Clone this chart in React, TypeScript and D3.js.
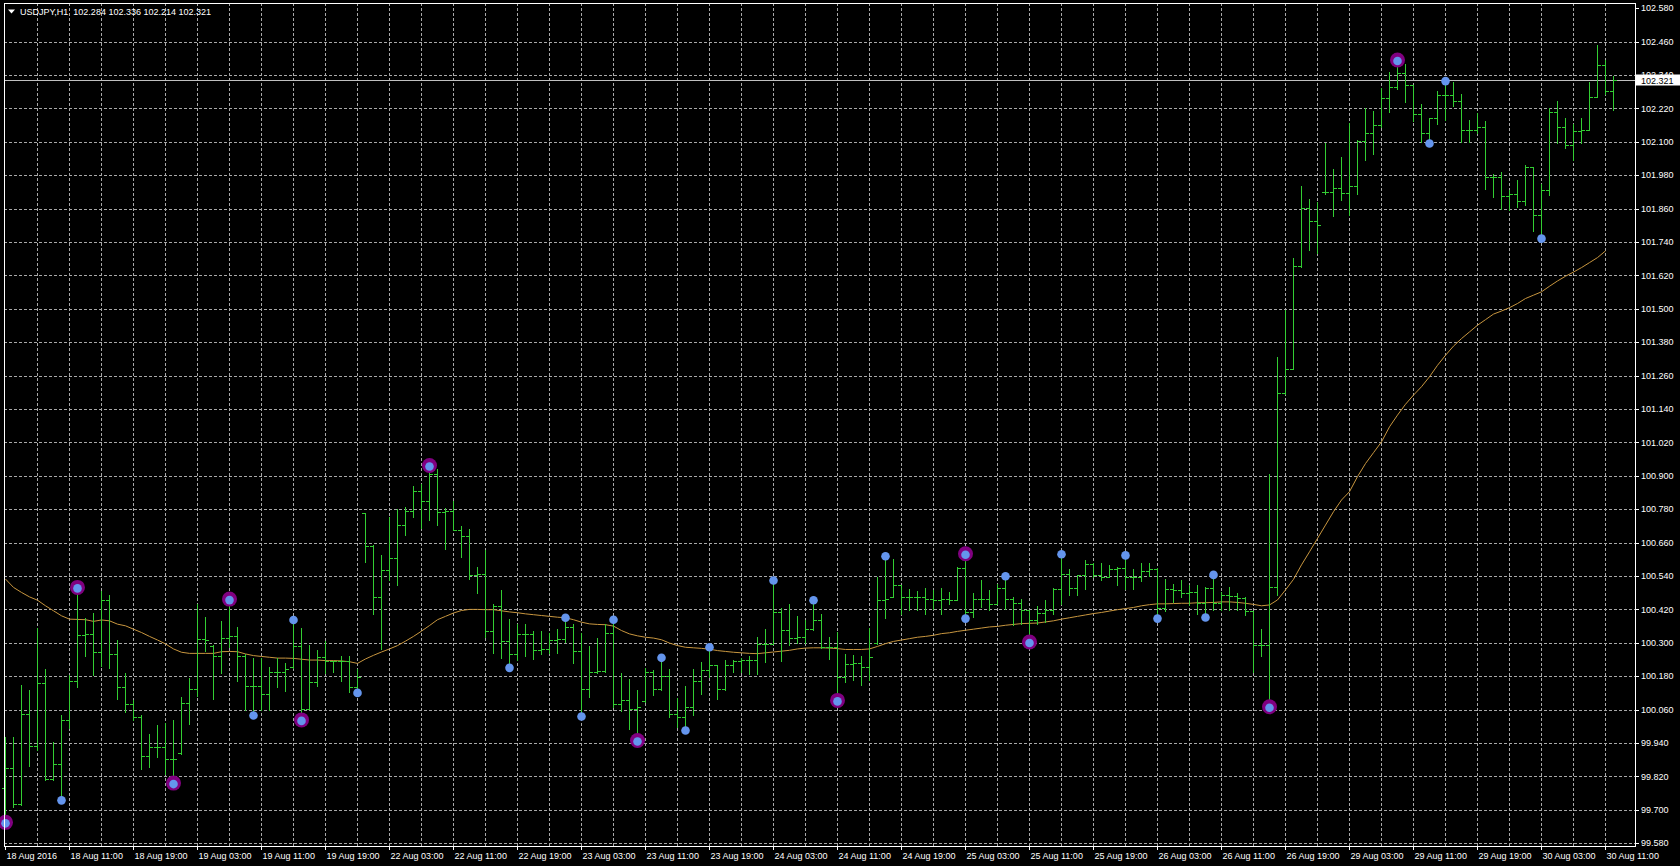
import * as d3 from 'd3';

const symbol = 'USDJPY,H1';
const lastQuote = ['102.284', '102.336', '102.214', '102.321'];
const lastClose = 102.321;

const timeLabels = [
  '18 Aug 2016', '18 Aug 11:00', '18 Aug 19:00', '19 Aug 03:00', '19 Aug 11:00', '19 Aug 19:00',
  '22 Aug 03:00', '22 Aug 11:00', '22 Aug 19:00', '23 Aug 03:00', '23 Aug 11:00', '23 Aug 19:00',
  '24 Aug 03:00', '24 Aug 11:00', '24 Aug 19:00', '25 Aug 03:00', '25 Aug 11:00', '25 Aug 19:00',
  '26 Aug 03:00', '26 Aug 11:00', '26 Aug 19:00', '29 Aug 03:00', '29 Aug 11:00', '29 Aug 19:00',
  '30 Aug 03:00', '30 Aug 11:00',
];

const priceTicks = [
  99.58, 99.7, 99.82, 99.94, 100.06, 100.18, 100.3, 100.42, 100.54, 100.66, 100.78, 100.9, 101.02,
  101.14, 101.26, 101.38, 101.5, 101.62, 101.74, 101.86, 101.98, 102.1, 102.22, 102.34, 102.46, 102.58,
];

// hourly bars, 18 Aug 03:00 .. 30 Aug 12:00
const opens = [
  99.78, 99.851, 99.722, 100.043, 99.931, 100.155, 99.812, 99.865, 100.023, 100.162,
  100.327, 100.331, 100.267, 100.454, 100.26, 100.14, 100.081, 100.033, 99.895, 99.925,
  99.924, 99.883, 99.905, 100.083, 100.135, 100.313, 100.29, 100.254, 100.319, 100.325,
  100.254, 100.144, 100.145, 100.116, 100.194, 100.194, 100.212, 100.288, 100.063, 100.158,
  100.248, 100.236, 100.233, 100.233, 100.14, 100.766, 100.646, 100.464, 100.56, 100.605,
  100.725, 100.773, 100.845, 100.811, 100.907, 100.769, 100.775, 100.706, 100.682, 100.542,
  100.546, 100.341, 100.431, 100.306, 100.258, 100.33, 100.33, 100.273, 100.278, 100.311,
  100.314, 100.356, 100.27, 100.135, 100.195, 100.198, 100.335, 100.079, 100.093, 100.063,
  100.09, 100.195, 100.135, 100.179, 100.045, 100.033, 100.071, 100.161, 100.203, 100.219,
  100.135, 100.219, 100.234, 100.239, 100.237, 100.294, 100.297, 100.411, 100.345, 100.318,
  100.321, 100.351, 100.383, 100.285, 100.285, 100.177, 100.225, 100.227, 100.213, 100.3,
  100.455, 100.466, 100.506, 100.464, 100.464, 100.464, 100.459, 100.453, 100.459, 100.453,
  100.57, 100.411, 100.459, 100.459, 100.438, 100.498, 100.459, 100.443, 100.417, 100.381,
  100.407, 100.417, 100.494, 100.548, 100.498, 100.542, 100.584, 100.542, 100.536, 100.566,
  100.57, 100.536, 100.537, 100.558, 100.565, 100.426, 100.493, 100.489, 100.479, 100.482,
  100.442, 100.498, 100.442, 100.47, 100.468, 100.461, 100.415, 100.293, 100.293, 100.502,
  101.196, 101.284, 101.654, 101.863, 101.814, 101.92, 101.919, 101.933, 101.916, 101.94,
  102.104, 102.132, 102.16, 102.256, 102.298, 102.348, 102.304, 102.2, 102.13, 102.184,
  102.268, 102.268, 102.248, 102.142, 102.142, 102.154, 101.974, 101.974, 101.904, 101.912,
  101.888, 102.01, 101.836, 101.926, 102.208, 102.154, 102.088, 102.14, 102.142, 102.262,
  102.376, 102.284,
];

const highs = [
  99.961, 99.963, 100.15, 100.132, 100.353, 100.207, 99.943, 100.042, 100.183, 100.499,
  100.389, 100.408, 100.487, 100.472, 100.31, 100.193, 100.095, 100.039, 99.973, 100.006,
  100.011, 100.024, 100.104, 100.172, 100.439, 100.394, 100.293, 100.379, 100.457, 100.358,
  100.26, 100.244, 100.245, 100.212, 100.245, 100.229, 100.382, 100.353, 100.293, 100.274,
  100.308, 100.236, 100.251, 100.254, 100.206, 100.766, 100.65, 100.614, 100.751, 100.781,
  100.787, 100.865, 100.871, 100.937, 100.925, 100.785, 100.809, 100.718, 100.71, 100.572,
  100.634, 100.438, 100.488, 100.386, 100.368, 100.366, 100.342, 100.342, 100.335, 100.35,
  100.39, 100.368, 100.335, 100.29, 100.318, 100.368, 100.383, 100.191, 100.171, 100.131,
  100.21, 100.201, 100.246, 100.207, 100.102, 100.146, 100.207, 100.231, 100.284, 100.219,
  100.237, 100.239, 100.246, 100.251, 100.321, 100.351, 100.524, 100.426, 100.438, 100.395,
  100.381, 100.453, 100.405, 100.321, 100.339, 100.261, 100.255, 100.251, 100.354, 100.536,
  100.611, 100.602, 100.506, 100.494, 100.486, 100.498, 100.488, 100.498, 100.482, 100.572,
  100.62, 100.479, 100.524, 100.488, 100.512, 100.539, 100.464, 100.459, 100.417, 100.431,
  100.453, 100.498, 100.618, 100.566, 100.542, 100.596, 100.587, 100.587, 100.578, 100.572,
  100.614, 100.565, 100.586, 100.586, 100.568, 100.53, 100.512, 100.526, 100.507, 100.509,
  100.502, 100.544, 100.484, 100.502, 100.479, 100.465, 100.415, 100.349, 100.907, 101.326,
  101.497, 101.684, 101.94, 101.893, 101.884, 102.097, 102.002, 102.047, 102.166, 102.108,
  102.22, 102.212, 102.292, 102.352, 102.394, 102.38, 102.304, 102.236, 102.184, 102.282,
  102.318, 102.314, 102.272, 102.18, 102.204, 102.176, 101.986, 101.99, 101.928, 101.962,
  102.016, 102.01, 101.948, 102.22, 102.248, 102.184, 102.164, 102.184, 102.316, 102.448,
  102.394, 102.336,
];

const lows = [
  99.655, 99.71, 99.716, 99.859, 99.916, 99.808, 99.808, 99.734, 99.993, 100.14,
  100.253, 100.183, 100.217, 100.208, 100.097, 100.051, 100.021, 99.846, 99.853, 99.889,
  99.829, 99.796, 99.901, 100.009, 100.108, 100.272, 100.098, 100.192, 100.284, 100.164,
  100.057, 100.039, 100.057, 100.057, 100.14, 100.128, 100.21, 100.023, 100.063, 100.146,
  100.19, 100.194, 100.164, 100.122, 100.12, 100.592, 100.404, 100.278, 100.524, 100.506,
  100.686, 100.751, 100.713, 100.74, 100.725, 100.638, 100.706, 100.608, 100.53, 100.478,
  100.32, 100.263, 100.246, 100.21, 100.239, 100.251, 100.243, 100.261, 100.263, 100.263,
  100.302, 100.227, 100.035, 100.107, 100.191, 100.195, 100.069, 100.055, 99.991, 99.949,
  100.087, 100.111, 100.131, 100.033, 99.997, 99.985, 100.039, 100.117, 100.177, 100.099,
  100.131, 100.195, 100.195, 100.187, 100.187, 100.231, 100.297, 100.235, 100.291, 100.299,
  100.299, 100.345, 100.282, 100.243, 100.093, 100.159, 100.165, 100.147, 100.167, 100.297,
  100.39, 100.464, 100.405, 100.417, 100.417, 100.405, 100.423, 100.405, 100.438, 100.453,
  100.387, 100.393, 100.429, 100.419, 100.438, 100.423, 100.363, 100.369, 100.303, 100.369,
  100.375, 100.405, 100.438, 100.47, 100.47, 100.494, 100.536, 100.524, 100.536, 100.506,
  100.494, 100.493, 100.523, 100.54, 100.387, 100.415, 100.447, 100.465, 100.437, 100.405,
  100.391, 100.419, 100.419, 100.419, 100.419, 100.401, 100.195, 100.251, 100.07, 100.47,
  101.193, 101.284, 101.651, 101.712, 101.702, 101.912, 101.835, 101.89, 101.836, 101.912,
  102.036, 102.056, 102.152, 102.208, 102.288, 102.244, 102.176, 102.1, 102.094, 102.164,
  102.18, 102.228, 102.1, 102.1, 102.132, 101.932, 101.9, 101.86, 101.856, 101.866,
  101.872, 101.78, 101.752, 101.908, 102.096, 102.076, 102.034, 102.094, 102.142, 102.262,
  102.272, 102.214,
];

const closes = [
  99.851, 99.722, 100.043, 99.931, 100.155, 99.812, 99.865, 100.023, 100.162, 100.327,
  100.331, 100.267, 100.454, 100.26, 100.14, 100.081, 100.033, 99.895, 99.925, 99.924,
  99.883, 99.883, 100.083, 100.135, 100.313, 100.31, 100.254, 100.319, 100.325, 100.254,
  100.144, 100.145, 100.116, 100.194, 100.194, 100.206, 100.288, 100.063, 100.158, 100.248,
  100.236, 100.233, 100.233, 100.14, 100.176, 100.646, 100.464, 100.56, 100.605, 100.725,
  100.773, 100.845, 100.811, 100.907, 100.769, 100.775, 100.706, 100.682, 100.542, 100.546,
  100.341, 100.431, 100.306, 100.258, 100.33, 100.33, 100.273, 100.278, 100.311, 100.314,
  100.356, 100.27, 100.135, 100.195, 100.198, 100.335, 100.079, 100.093, 100.063, 100.069,
  100.195, 100.135, 100.179, 100.045, 100.033, 100.071, 100.161, 100.203, 100.219, 100.135,
  100.219, 100.234, 100.239, 100.237, 100.294, 100.297, 100.411, 100.345, 100.318, 100.321,
  100.351, 100.383, 100.285, 100.285, 100.177, 100.225, 100.227, 100.213, 100.249, 100.455,
  100.459, 100.506, 100.464, 100.464, 100.464, 100.459, 100.453, 100.459, 100.453, 100.57,
  100.411, 100.459, 100.459, 100.438, 100.498, 100.459, 100.443, 100.417, 100.381, 100.407,
  100.417, 100.494, 100.548, 100.498, 100.542, 100.584, 100.542, 100.536, 100.566, 100.57,
  100.536, 100.537, 100.558, 100.565, 100.426, 100.493, 100.489, 100.479, 100.482, 100.442,
  100.498, 100.442, 100.47, 100.468, 100.461, 100.415, 100.293, 100.293, 100.502, 101.196,
  101.284, 101.654, 101.863, 101.814, 101.8, 101.919, 101.933, 101.916, 101.94, 102.104,
  102.132, 102.16, 102.256, 102.298, 102.348, 102.304, 102.2, 102.13, 102.184, 102.268,
  102.268, 102.248, 102.142, 102.142, 102.154, 101.974, 101.974, 101.904, 101.912, 101.888,
  102.01, 101.836, 101.926, 102.208, 102.154, 102.088, 102.14, 102.142, 102.262, 102.376,
  102.284, 102.321,
];

// moving average, one value per bar (bars 0..200)
const maValues = [
  100.529, 100.499, 100.481, 100.465, 100.453, 100.433, 100.415, 100.397, 100.385, 100.384,
  100.383, 100.377, 100.382, 100.379, 100.367, 100.361, 100.349, 100.337, 100.323, 100.31,
  100.296, 100.278, 100.266, 100.262, 100.262, 100.262, 100.262, 100.268, 100.269, 100.268,
  100.26, 100.254, 100.251, 100.248, 100.245, 100.245, 100.244, 100.241, 100.238, 100.238,
  100.236, 100.236, 100.235, 100.232, 100.226, 100.242, 100.255, 100.267, 100.278, 100.29,
  100.306, 100.323, 100.342, 100.362, 100.383, 100.395, 100.407, 100.416, 100.42, 100.42,
  100.419, 100.419, 100.415, 100.411, 100.408, 100.404, 100.401, 100.398, 100.395, 100.392,
  100.39, 100.383, 100.374, 100.368, 100.366, 100.365, 100.36, 100.344, 100.332, 100.325,
  100.32, 100.317, 100.311, 100.299, 100.29, 100.284, 100.282, 100.28, 100.277, 100.272,
  100.269, 100.266, 100.264, 100.262, 100.261, 100.264, 100.267, 100.27, 100.273, 100.278,
  100.281, 100.282, 100.282, 100.281, 100.279, 100.276, 100.276, 100.276, 100.278, 100.287,
  100.297, 100.305, 100.31, 100.315, 100.32, 100.323, 100.327, 100.333, 100.336, 100.341,
  100.345, 100.349, 100.353, 100.357, 100.359, 100.363, 100.366, 100.369, 100.37, 100.371,
  100.375, 100.379, 100.385, 100.39, 100.395, 100.4, 100.405, 100.409, 100.414, 100.419,
  100.423, 100.427, 100.433, 100.437, 100.44, 100.44, 100.441, 100.442, 100.442, 100.444,
  100.444, 100.445, 100.447, 100.447, 100.445, 100.442, 100.438, 100.433, 100.436, 100.454,
  100.49, 100.528, 100.58, 100.627, 100.675, 100.723, 100.771, 100.813, 100.843, 100.897,
  100.944, 100.983, 101.022, 101.076, 101.118, 101.157, 101.19, 101.22, 101.256, 101.297,
  101.333, 101.366, 101.393, 101.417, 101.441, 101.461, 101.481, 101.492, 101.504, 101.519,
  101.537, 101.549, 101.561, 101.581, 101.6, 101.617, 101.632, 101.648, 101.666, 101.684,
  101.708,
];

// [bar, price]
const majorFractals: [number, number][] = [
  [0, 99.655], [9, 100.499], [21, 99.796], [28, 100.457], [37, 100.023], [53, 100.937],
  [79, 99.949], [104, 100.093], [120, 100.62], [128, 100.303], [158, 100.07], [174, 102.394],
];
const minorFractals: [number, number][] = [
  [7, 99.734], [31, 100.039], [36, 100.382], [44, 100.12], [63, 100.21], [70, 100.39],
  [72, 100.035], [76, 100.383], [82, 100.246], [85, 99.985], [88, 100.284], [96, 100.524],
  [101, 100.453], [110, 100.611], [120, 100.387], [125, 100.539], [132, 100.618], [140, 100.614],
  [144, 100.387], [150, 100.391], [151, 100.544], [178, 102.094], [180, 102.318], [192, 101.752],
];

const W = 1680;
const H = 866;
const plot = { left: 4, right: 1635, top: 3, bottom: 846 };
const font = "'Liberation Sans', Arial, sans-serif";
const barColor = '#32cd32';
const gridColor = '#a8a8a8';

const crisp = (v: number) => Math.round(v) + 0.5;

export default function App() {
  const x = d3.scaleLinear().domain([0, closes.length - 1]).range([5, 5 + 8 * (closes.length - 1)]);
  const y = d3.scaleLinear().domain([99.58, 102.58]).range([843.2, 8.2]);

  const maLine = d3.line<number>()
    .x((_, i) => x(i) + 0.5)
    .y((d) => y(d));

  const gridX = d3.range(4, closes.length, 4).map((i) => crisp(x(i)));
  const lastY = crisp(y(lastClose));

  return (
    <svg width={W} height={H} style={{ position: 'absolute', left: 0, top: 0, display: 'block' }}>
      <rect x={0} y={0} width={W} height={H} fill="#000" />

      <g stroke={gridColor} strokeWidth={1} strokeDasharray="3,2">
        {priceTicks.filter((t) => y(t) > 12).map((t) => (
          <line key={`h${t}`} x1={plot.left} x2={plot.right} y1={crisp(y(t))} y2={crisp(y(t))} />
        ))}
        {gridX.map((gx) => (
          <line key={`v${gx}`} x1={gx} x2={gx} y1={plot.top} y2={plot.bottom} />
        ))}
      </g>

      <line x1={plot.left} x2={plot.right} y1={lastY} y2={lastY} stroke="#c0c0c0" strokeWidth={1} />

      <path d={maLine(maValues) ?? ''} fill="none" stroke="#c8963f" strokeWidth={1} />

      <g stroke={barColor} strokeWidth={1} shapeRendering="crispEdges">
        {closes.map((c, i) => {
          const bx = Math.round(x(i));
          const oy = crisp(y(opens[i]));
          const cy = crisp(y(c));
          return (
            <g key={i}>
              <line x1={bx + 0.5} x2={bx + 0.5} y1={Math.round(y(highs[i]))} y2={Math.round(y(lows[i])) + 1} />
              <line x1={bx - 3} x2={bx} y1={oy} y2={oy} />
              <line x1={bx + 1} x2={bx + 4} y1={cy} y2={cy} />
            </g>
          );
        })}
      </g>

      {majorFractals.map(([b, p]) => (
        <circle key={`m${b}`} cx={x(b) + 0.5} cy={y(p)} r={7.5} fill="#800080" />
      ))}
      {majorFractals.map(([b, p]) => (
        <circle key={`mb${b}`} cx={x(b) + 0.5} cy={y(p) + 1} r={4.3} fill="#6495ed" />
      ))}
      {minorFractals.map(([b, p], k) => (
        <circle key={`n${k}`} cx={x(b) + 0.5} cy={y(p)} r={4.3} fill="#6495ed" />
      ))}

      <g stroke="#fff" strokeWidth={1} fill="none" shapeRendering="crispEdges">
        <rect x={plot.left + 0.5} y={plot.top + 0.5} width={plot.right - plot.left} height={plot.bottom - plot.top} />
      </g>

      <g fontFamily={font} fontSize={9} fill="#fff">
        {priceTicks.map((t) => (
          <g key={`yl${t}`}>
            <line x1={plot.right + 1} x2={plot.right + 4} y1={crisp(y(t))} y2={crisp(y(t))} stroke="#fff" />
            <text x={1641} y={y(t)} dy="0.35em">{t.toFixed(3)}</text>
          </g>
        ))}
        {timeLabels.map((lab, k) => {
          const tx = crisp(x(8 * k));
          return (
            <g key={`xl${k}`}>
              <line x1={tx} x2={tx} y1={plot.bottom} y2={plot.bottom + 4} stroke="#fff" />
              <text x={tx + 1} y={859}>{lab}</text>
            </g>
          );
        })}
      </g>

      <rect x={1636} y={lastY - 6} width={44} height={11} fill="#fff" />
      <text x={1641} y={lastY} dy="0.35em" fontFamily={font} fontSize={9} fill="#000">{lastClose.toFixed(3)}</text>

      <path d="M8,9.5 L15,9.5 L11.5,13.5 Z" fill="#fff" />
      <text x={20} y={15} fontFamily={font} fontSize={9} fill="#fff" style={{ whiteSpace: 'pre' }}>
        {`${symbol}  ${lastQuote.join(' ')}`}
      </text>
    </svg>
  );
}
